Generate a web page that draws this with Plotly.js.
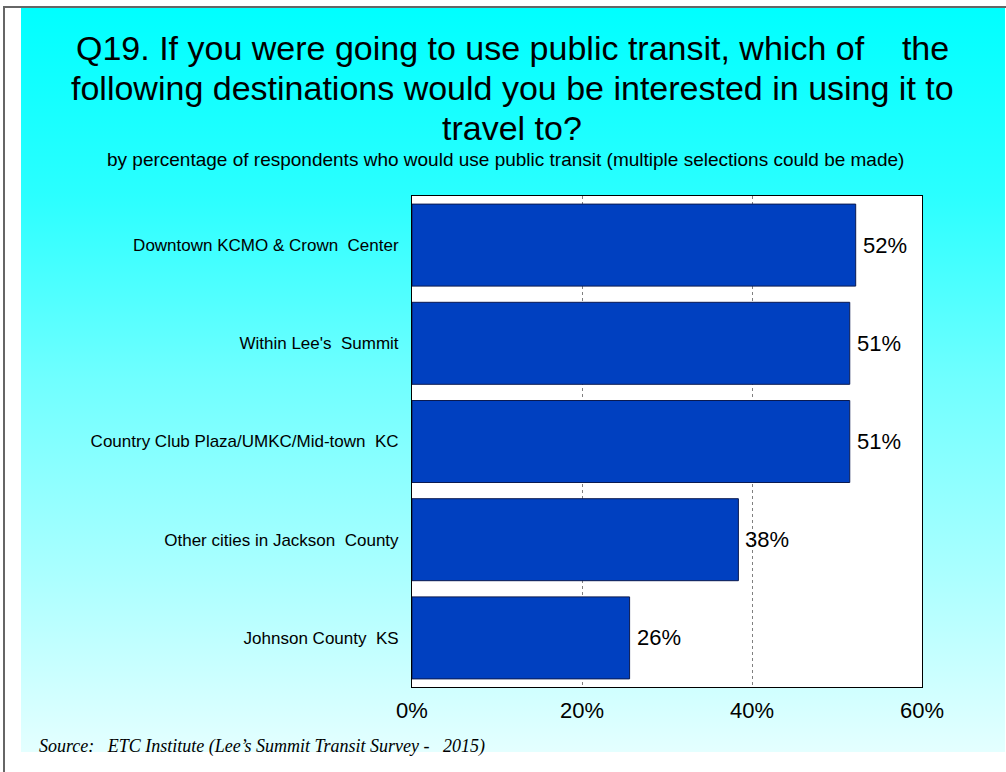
<!DOCTYPE html>
<html>
<head>
<meta charset="utf-8">
<script src="https://cdn.plot.ly/plotly-3.0.1.min.js"></script>
<style>
  html, body { margin: 0; padding: 0; background: #ffffff; }
  #wrap { position: relative; width: 1006px; height: 772px; overflow: hidden; background: #ffffff; }
  #frame { position: absolute; left: 3px; top: 6px; width: 1003px; height: 766px;
           border-left: 2px solid #666; border-top: 2px solid #666; box-sizing: border-box; }
  #grad { position: absolute; left: 21px; top: 8px; width: 984px; height: 744px;
          background: linear-gradient(to bottom, #00ffff 0%, #2affff 25%, #70ffff 50%, #a8ffff 75%, #e4ffff 100%); }
  #chart { position: absolute; left: 0; top: 0; width: 1006px; height: 772px; }
</style>
</head>
<body>
<div id="wrap">
  <div id="frame"></div>
  <div id="grad"></div>
  <div id="chart"></div>
</div>
<script>
const categories = [
  "Downtown KCMO & Crown\u00A0 Center",
  "Within Lee's\u00A0 Summit",
  "Country Club Plaza/UMKC/Mid-town\u00A0 KC",
  "Other cities in Jackson\u00A0 County",
  "Johnson County\u00A0 KS"
];
const values = [52.2, 51.5, 51.5, 38.4, 25.6];
const valueLabels = ["52%", "51%", "51%", "38%", "26%"];
const xTickVals = [0, 20, 40, 60];
const xTickText = ["0%", "20%", "40%", "60%"];

const titleLines = [
  "Q19. If you were going to use public transit, which of\u00A0\u00A0\u00A0 the",
  "following destinations would you be interested in using it to",
  "travel to?"
];
const subtitle = "by percentage of respondents who would use public transit (multiple selections could be made)";
const source = "Source:\u00A0\u00A0 ETC Institute (Lee\u2019s Summit Transit Survey -\u00A0\u00A0 2015)";

const FONT = "Arial, 'Liberation Sans', sans-serif";

// plot geometry (pixels)
const PL = 412, PR = 922, PT = 196, PB = 687;
const px = x => (x - PL) / (PR - PL);
const py = y => 1 - (y - PT) / (PB - PT);

const trace = {
  type: "bar",
  orientation: "h",
  x: values,
  y: categories,
  marker: { color: "#0040c0", line: { color: "#0a1a50", width: 1 } },
  hoverinfo: "none"
};

const annotations = [];
const titleY = [48, 88, 128];
titleLines.forEach((t, i) => {
  annotations.push({
    xref: "paper", yref: "paper",
    x: px(512), y: py(titleY[i]),
    text: t, showarrow: false, xanchor: "center", yanchor: "middle",
    font: { family: FONT, size: 34, color: "#000" }
  });
});
annotations.push({
  xref: "paper", yref: "paper",
  x: px(505), y: py(160),
  text: subtitle, showarrow: false, xanchor: "center", yanchor: "middle",
  font: { family: FONT, size: 19, color: "#000" }
});
annotations.push({
  xref: "paper", yref: "paper",
  x: px(37), y: py(746),
  text: "<i>" + source + "</i>", showarrow: false, xanchor: "left", yanchor: "middle",
  font: { family: "'Liberation Serif', 'Times New Roman', serif", size: 18, color: "#000" }
});
values.forEach((v, i) => {
  annotations.push({
    x: v, y: categories[i], xref: "x", yref: "y",
    text: valueLabels[i], showarrow: false, xanchor: "left", yanchor: "middle",
    xshift: 5,
    font: { family: FONT, size: 22, color: "#000" }
  });
});

const layout = {
  width: 1006, height: 772,
  margin: { l: PL, r: 1006 - PR, t: PT, b: 772 - PB, pad: 0 },
  paper_bgcolor: "rgba(0,0,0,0)",
  plot_bgcolor: "#ffffff",
  showlegend: false,
  bargap: 0.165,
  font: { family: FONT, color: "#000" },
  xaxis: {
    range: [0, 60], tickvals: xTickVals, ticktext: xTickText,
    showgrid: true, gridcolor: "#808080", griddash: "dot", gridwidth: 1,
    zeroline: false, showline: true, mirror: true, linecolor: "#000", linewidth: 1,
    ticks: "", ticklabelstandoff: 4,
    tickfont: { family: FONT, size: 22, color: "#000" },
    fixedrange: true
  },
  yaxis: {
    autorange: "reversed", type: "category",
    showgrid: false, zeroline: false, showline: true, mirror: true, linecolor: "#000", linewidth: 1,
    ticks: "", ticklabelstandoff: 9,
    tickfont: { family: FONT, size: 17, color: "#000" },
    fixedrange: true
  },
  annotations: annotations
};

Plotly.newPlot("chart", [trace], layout, { staticPlot: true, displayModeBar: false });
</script>
</body>
</html>
